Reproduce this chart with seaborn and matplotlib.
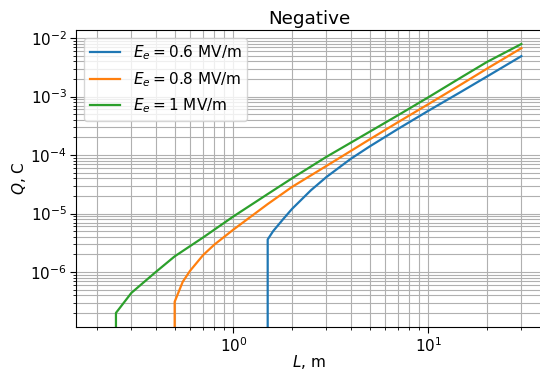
import matplotlib
matplotlib.use("Agg")
import matplotlib.pyplot as plt
import seaborn as sns
import numpy as np

# Data (L in m, Q in C); Q=0 below onset length
L_06 = [1.5, 1.5, 1.6, 1.8, 2.0, 2.5, 3.0, 4.0, 5.0, 7.0, 10.0, 15.0, 20.0, 30.0]
Q_06 = [0.0, 3.6e-6, 5.0e-6, 8.0e-6, 1.2e-5, 2.5e-5, 4.2e-5, 8.6e-5, 1.4e-4,
        2.8e-4, 5.7e-4, 1.25e-3, 2.2e-3, 4.9e-3]

L_08 = [0.5, 0.5, 0.55, 0.6, 0.7, 0.8, 1.0, 1.5, 2.0, 3.0, 5.0, 7.0, 10.0, 15.0, 20.0, 30.0]
Q_08 = [0.0, 3.1e-7, 6.8e-7, 1.05e-6, 1.95e-6, 2.95e-6, 5.3e-6, 1.45e-5, 2.85e-5,
        6.5e-5, 1.85e-4, 3.65e-4, 7.4e-4, 1.67e-3, 3.0e-3, 6.7e-3]

L_10 = [0.25, 0.25, 0.3, 0.4, 0.5, 0.7, 1.0, 1.5, 2.0, 3.0, 5.0, 7.0, 10.0, 15.0, 20.0, 30.0]
Q_10 = [0.0, 2.0e-7, 4.4e-7, 1.0e-6, 1.85e-6, 3.9e-6, 8.9e-6, 2.15e-5, 4.0e-5,
        9.3e-5, 2.5e-4, 4.8e-4, 9.7e-4, 2.2e-3, 3.9e-3, 7.9e-3]

labels = [r"$E_e = 0.6$ MV/m", r"$E_e = 0.8$ MV/m", r"$E_e = 1$ MV/m"]
colors = ["#1f77b4", "#ff7f0e", "#2ca02c"]

plt.rcParams["font.size"] = 11

fig = plt.figure(figsize=(5.4, 3.71), dpi=100)
ax = fig.add_axes([76/540, 44/371, (542.6-76)/540, 297/371])

for Lx, Qy, lab, col in zip([L_06, L_08, L_10], [Q_06, Q_08, Q_10], labels, colors):
    sns.lineplot(x=Lx, y=Qy, sort=False, estimator=None, color=col,
                 label=lab, ax=ax, linewidth=1.6)

ax.set_xscale("log")
ax.set_yscale("log")
ax.set_xlim(10**-0.807, 10**1.586)
ax.set_ylim(10**-6.94, 10**-1.863)
ax.grid(True, which="both")
ax.tick_params(which="major", length=4, pad=2.5)
ax.tick_params(which="minor", length=2.5)
ax.set_xlabel(r"$L$, m", labelpad=-1)
ax.set_ylabel(r"$Q$, C", labelpad=2)
ax.set_title("Negative", pad=4)
ax.legend(loc="upper left")

fig.savefig("out.png", dpi=100)
